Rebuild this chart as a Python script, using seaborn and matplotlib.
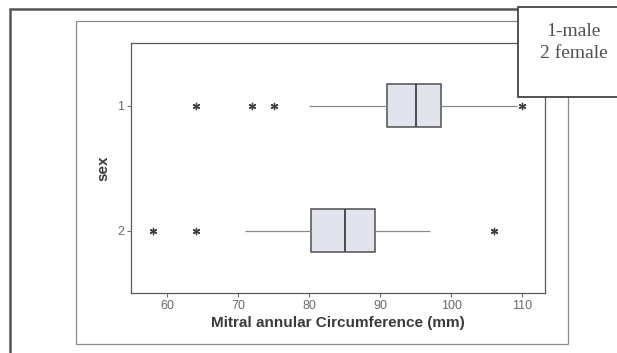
import seaborn as sns
import pandas as pd
import matplotlib.pyplot as plt
from matplotlib.patches import Rectangle

# 값은 그림에서 읽어낸 추정치
sex = ['1', '2']
whisker_lo = [80.0, 71.0]
q1 = [91.0, 80.3]
median = [95.0, 85.1]
q3 = [98.6, 89.2]
whisker_hi = [109.2, 97.0]
outliers_1 = [64, 72, 75, 110]
outliers_2 = [58, 64, 106]
xticks = [60, 70, 80, 90, 100, 110]

# 박스용 데이터 (5개 값 -> 사분위수가 그대로 나옴)
box_rows = []
for i, s in enumerate(sex):
    for v in [whisker_lo[i], q1[i], median[i], q3[i], whisker_hi[i]]:
        box_rows.append({'sex': s, 'value': v})
box_df = pd.DataFrame(box_rows)

out_df = pd.DataFrame({
    'sex': ['1'] * len(outliers_1) + ['2'] * len(outliers_2),
    'value': outliers_1 + outliers_2,
})

sns.set_theme(style='white')
plt.rcParams['font.family'] = ['Liberation Sans', 'DejaVu Sans']

fig = plt.figure(figsize=(6.17, 3.53), dpi=100)
ax = fig.add_axes([0.2123, 0.170, 0.671, 0.708])

sns.boxplot(data=box_df, x='value', y='sex', order=sex, whis=(0, 100),
            width=0.34, showfliers=False, color='#dfe3ee', ax=ax,
            boxprops=dict(edgecolor='#505050', linewidth=1.1),
            medianprops=dict(color='#404040', linewidth=1.3),
            whiskerprops=dict(color='#8a8a8a', linewidth=0.9),
            capprops=dict(linewidth=0))
sns.stripplot(data=out_df, x='value', y='sex', order=sex, jitter=False,
              marker=(6, 2, 0), size=4.5, linewidth=1.0, color='#404040', ax=ax)

ax.set_xlim(54.9, 113.2)
ax.set_ylim(1.5, -0.5)
ax.set_xticks(xticks)
ax.set_xticklabels([str(t) for t in xticks])
ax.tick_params(axis='both', length=3, width=0.8, color='#707070',
               labelcolor='#6a6a6a', labelsize=9, pad=2, direction='out')
ax.tick_params(axis='both', bottom=True, left=True)
for sp in ax.spines.values():
    sp.set_color('#5a5a5a')
    sp.set_linewidth(0.9)
ax.set_xlabel('Mitral annular Circumference (mm)', fontsize=11,
              fontweight='bold', color='#3a3a3a', labelpad=3)
ax.set_ylabel('sex', fontsize=11, fontweight='bold', color='#3a3a3a',
              labelpad=5)

# 바깥 테두리와 그래프 창 테두리
fig.patches.append(Rectangle((0.0162, -0.05), 1.1, 1.0245, fill=False,
                             edgecolor='#555555', linewidth=1.8,
                             transform=fig.transFigure, zorder=0))
fig.patches.append(Rectangle((0.1232, 0.0255), 0.7974, 0.915, fill=False,
                             edgecolor='#8a8a8a', linewidth=0.9,
                             transform=fig.transFigure, zorder=0))
# 범례 상자
fig.patches.append(Rectangle((0.8395, 0.725), 0.2, 0.255, facecolor='white',
                             edgecolor='#444444', linewidth=1.3,
                             transform=fig.transFigure, zorder=5))
fig.text(0.93, 0.912, '1-male', ha='center', va='center', fontsize=14,
         family=['Liberation Serif', 'DejaVu Serif'], color='#505050', zorder=6)
fig.text(0.93, 0.848, '2 female', ha='center', va='center', fontsize=14,
         family=['Liberation Serif', 'DejaVu Serif'], color='#505050', zorder=6)

fig.savefig('out.png', dpi=100)
plt.close(fig)
